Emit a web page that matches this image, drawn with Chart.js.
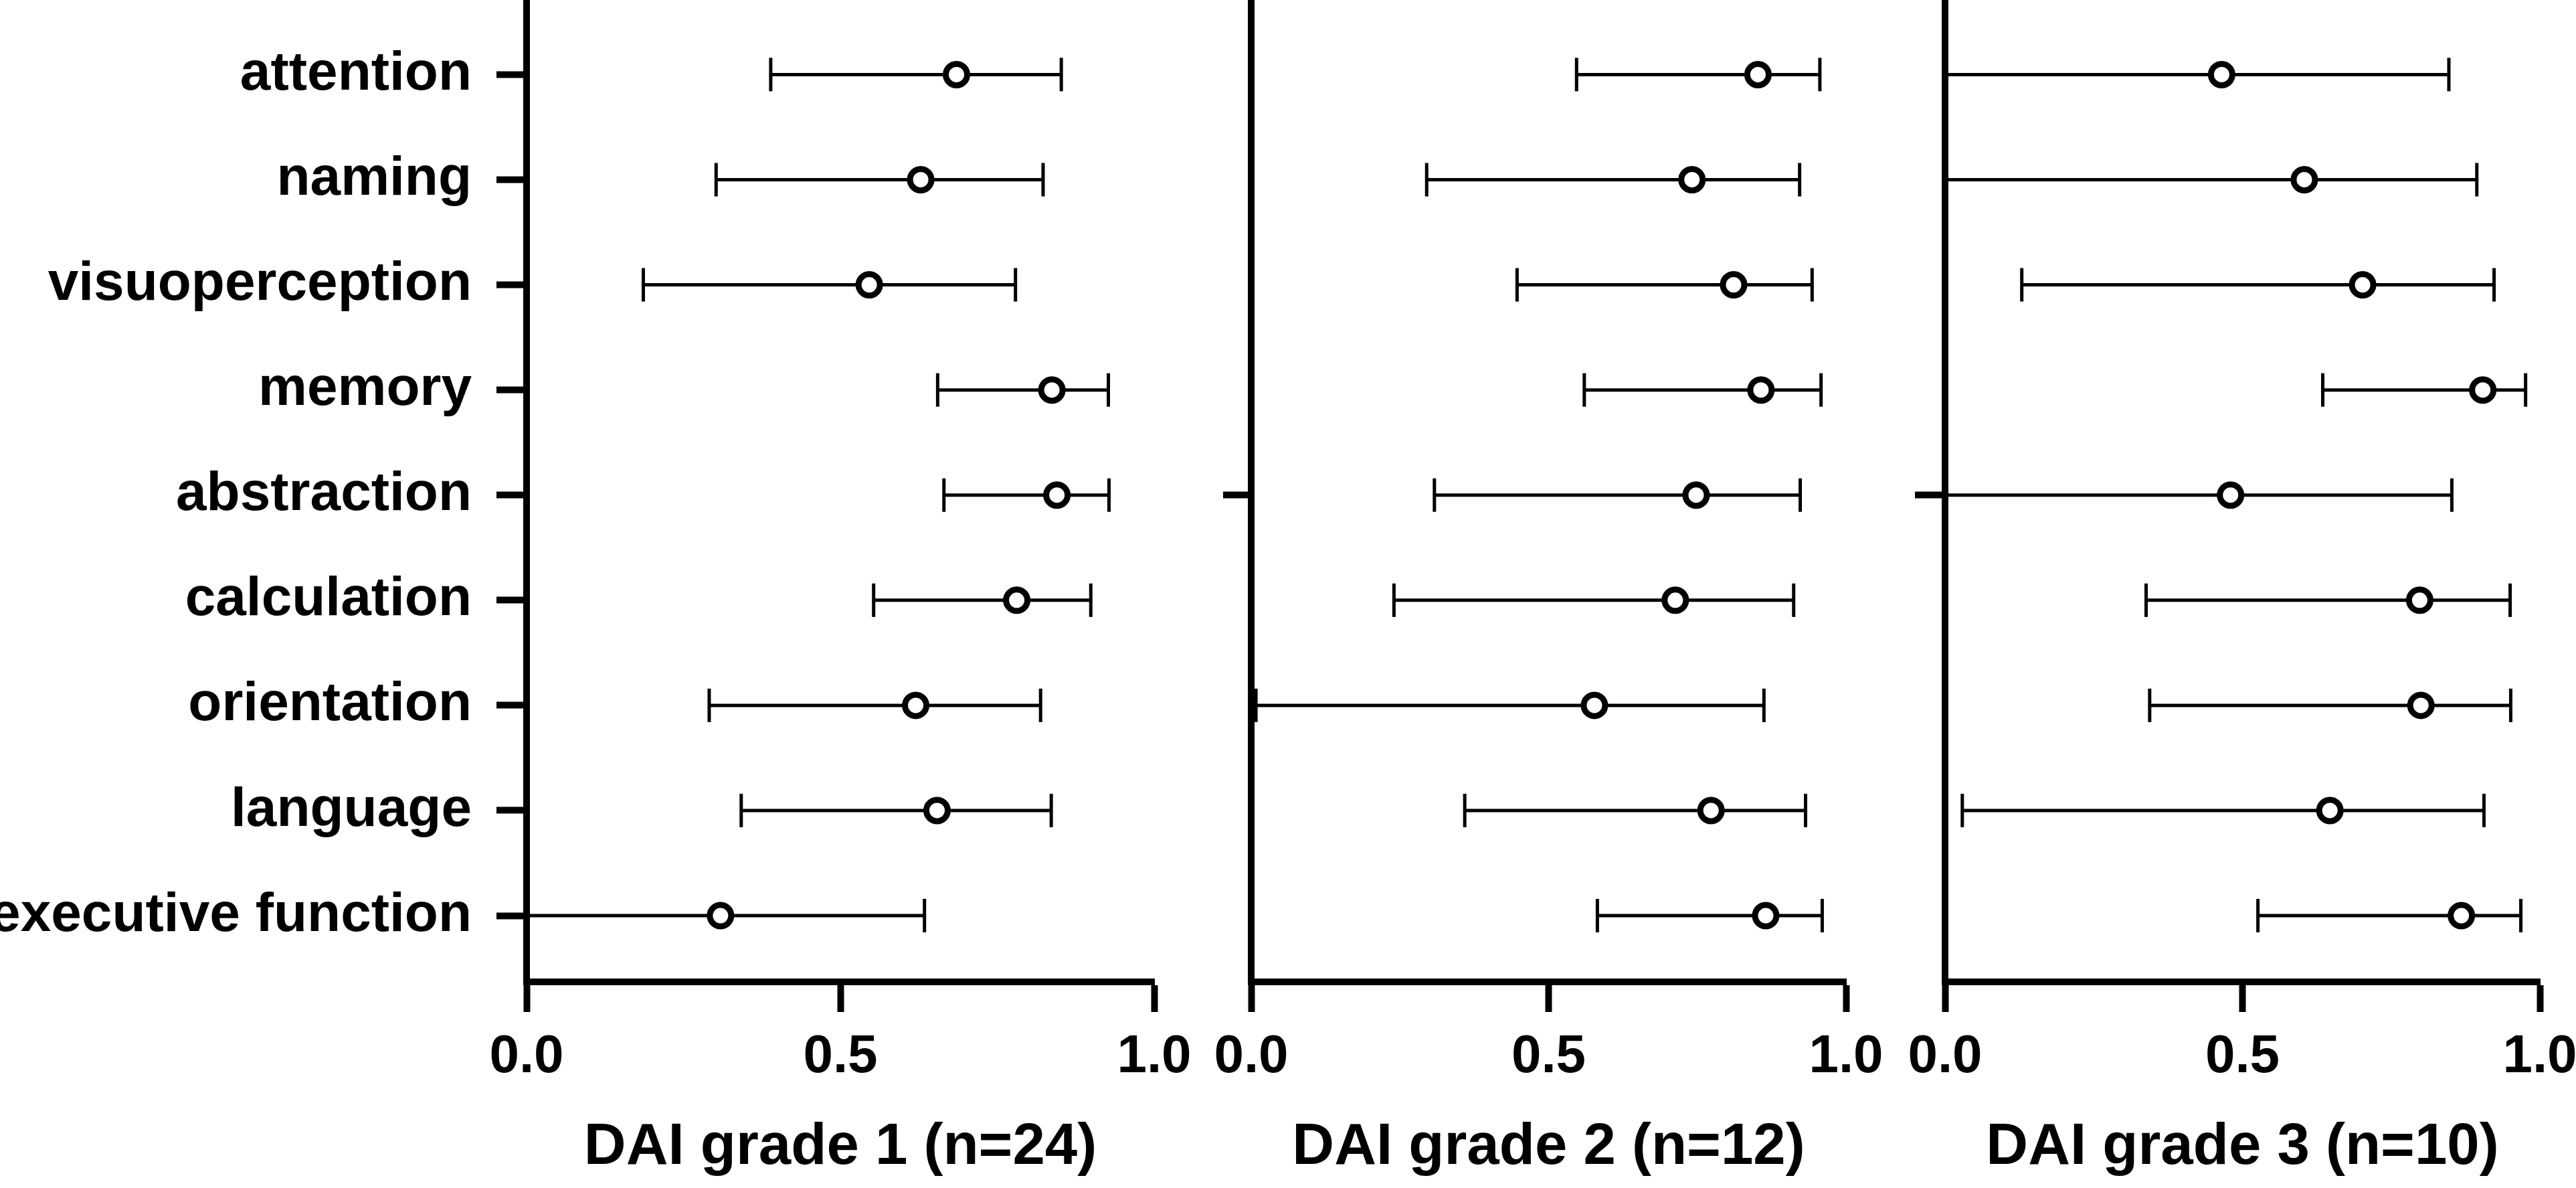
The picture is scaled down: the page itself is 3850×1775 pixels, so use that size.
<!DOCTYPE html>
<html>
<head>
<meta charset="utf-8">
<title>DAI grade panels</title>
<script src="https://cdn.jsdelivr.net/npm/chart.js@4/dist/chart.umd.min.js"></script>
<style>
  html, body { margin: 0; padding: 0; background: #fff; overflow: hidden; }
  #wrap { position: relative; width: 3850px; height: 1775px; }
  canvas { position: absolute; top: 0; }
</style>
</head>
<body>
<div id="wrap">
  <canvas id="p1" width="1800" height="1775" style="left:0px"></canvas>
  <canvas id="p2" width="1050" height="1775" style="left:1800px"></canvas>
  <canvas id="p3" width="1000" height="1775" style="left:2850px"></canvas>
</div>
<script>
// categories, top to bottom
const categories = ['attention', 'naming', 'visuoperception', 'memory', 'abstraction',
                    'calculation', 'orientation', 'language', 'executive function'];
const xTicks = [0, 0.5, 1];

// DAI grade 1 (n=24)
const grade1Mean = [0.685, 0.628, 0.546, 0.837, 0.845, 0.781, 0.620, 0.654, 0.309];
const grade1Low  = [0.389, 0.302, 0.186, 0.655, 0.665, 0.553, 0.291, 0.342, 0];
const grade1High = [0.852, 0.823, 0.779, 0.927, 0.928, 0.899, 0.819, 0.836, 0.634];

// DAI grade 2 (n=12)
const grade2Mean = [0.852, 0.741, 0.811, 0.857, 0.748, 0.713, 0.577, 0.773, 0.865];
const grade2Low  = [0.547, 0.295, 0.447, 0.560, 0.308, 0.240, 0.008, 0.359, 0.582];
const grade2High = [0.956, 0.922, 0.943, 0.958, 0.923, 0.912, 0.862, 0.932, 0.960];

// DAI grade 3 (n=10)
const grade3Mean = [0.465, 0.604, 0.702, 0.904, 0.480, 0.798, 0.800, 0.647, 0.868];
const grade3Low  = [0, 0, 0.129, 0.635, 0, 0.338, 0.344, 0.029, 0.526];
const grade3High = [0.847, 0.894, 0.923, 0.976, 0.852, 0.950, 0.951, 0.906, 0.968];

const titles = ['DAI grade 1 (n=24)', 'DAI grade 2 (n=12)', 'DAI grade 3 (n=10)'];

Chart.defaults.font.family = '"Liberation Sans", Arial, Helvetica, sans-serif';
Chart.defaults.font.weight = 'bold';
Chart.defaults.color = '#000';

function makePanel(id, means, lows, highs, title, opts) {
    const pts = arr => arr.map((v, i) => ({ x: v, y: i }));

    // whisker lines, one per category
    const whiskers = lows.map((lo, i) => ({
        data: [{ x: lo, y: i }, { x: highs[i], y: i }],
        showLine: true,
        borderColor: '#000',
        borderWidth: 5,
        pointRadius: 0
    }));

    const datasets = [
        {
            // means drawn on top (dataset 0 is painted last)
            data: pts(means),
            pointStyle: 'circle',
            pointRadius: 16,
            borderWidth: 9,
            borderColor: '#000',
            backgroundColor: '#fff'
        },
        {
            // whisker caps
            data: pts(lows).concat(pts(highs)),
            pointStyle: 'line',
            rotation: 90,
            pointRadius: 25,
            borderWidth: 5,
            borderColor: '#000'
        }
    ].concat(whiskers);

    return new Chart(document.getElementById(id), {
        type: 'scatter',
        data: { datasets: datasets },
        options: {
            responsive: false,
            devicePixelRatio: 1,
            animation: false,
            events: [],
            clip: false,
            layout: { autoPadding: false, padding: { top: 3, right: opts.padRight, left: 0, bottom: 0 } },
            plugins: { legend: { display: false }, tooltip: { enabled: false } },
            scales: {
                x: {
                    type: 'linear',
                    min: 0,
                    max: 1,
                    afterBuildTicks: s => { s.ticks = xTicks.map(v => ({ value: v })); },
                    ticks: {
                        padding: 20,
                        font: { size: 80, weight: 'bold' },
                        color: '#000',
                        maxRotation: 0,
                        callback: v => v.toFixed(1)
                    },
                    grid: { drawOnChartArea: false, drawTicks: true, tickLength: 45, tickWidth: 10, tickColor: '#000' },
                    border: { display: true, width: 10, color: '#000' },
                    title: {
                        display: true,
                        text: title,
                        font: { size: 87, weight: 'bold' },
                        color: '#000',
                        padding: { top: 0, bottom: 8 }
                    },
                    afterFit: s => { s.height = 308; s.paddingLeft = 0; s.paddingRight = 0; }
                },
                y: {
                    type: 'linear',
                    reverse: true,
                    min: -0.69,
                    max: 8.63,
                    afterBuildTicks: s => { s.ticks = opts.yTicks.map(v => ({ value: v })); },
                    ticks: {
                        display: opts.showLabels,
                        padding: 37,
                        font: { size: 82, weight: 'bold' },
                        color: '#000',
                        callback: v => categories[v]
                    },
                    grid: { drawOnChartArea: false, drawTicks: true, tickLength: opts.yTickLen, tickWidth: 10, tickColor: '#000' },
                    border: { display: true, width: 10, color: '#000' },
                    afterFit: s => { s.width = opts.yWidth; s.paddingTop = 0; s.paddingBottom = 0; }
                }
            }
        }
    });
}

const allIdx = categories.map((c, i) => i);

makePanel('p1', grade1Mean, grade1Low, grade1High, titles[0],
    { yWidth: 787, padRight: 75, showLabels: true, yTicks: allIdx, yTickLen: 45 });
makePanel('p2', grade2Mean, grade2Low, grade2High, titles[1],
    { yWidth: 70, padRight: 91, showLabels: false, yTicks: [4], yTickLen: 42 });
makePanel('p3', grade3Mean, grade3Low, grade3High, titles[2],
    { yWidth: 57, padRight: 54, showLabels: false, yTicks: [4], yTickLen: 45 });
</script>
</body>
</html>
